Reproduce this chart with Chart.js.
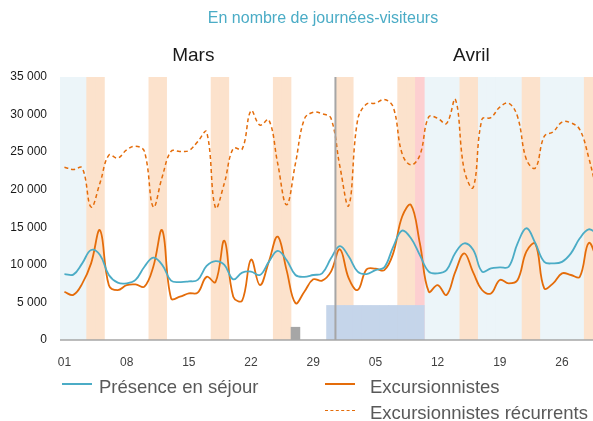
<!DOCTYPE html>
<html>
<head>
<meta charset="utf-8">
<script src="https://cdn.jsdelivr.net/npm/chart.js@4"></script>
<style>
  html, body { margin: 0; padding: 0; background: #fff; overflow: hidden; }
  #wrap { position: relative; width: 593px; height: 421px; overflow: hidden; font-family: "Liberation Sans", Arial, sans-serif; }
  /* le cadre du graphique dépasse un peu à droite : le 30 avril est coupé */
  #box { position: absolute; left: 0; top: 0; width: 602px; height: 421px; }
  .leg { position: absolute; font-size: 18.5px; color: #595959; white-space: nowrap; }
  .sw { position: absolute; width: 30px; height: 0; }
</style>
</head>
<body>
<div id="wrap">
  <div id="box"><canvas id="chart"></canvas></div>
  <div class="sw" style="left:62px;top:383px;border-top:2px solid #4bacc6"></div>
  <div class="leg" style="left:99px;top:376px">Présence en séjour</div>
  <div class="sw" style="left:325px;top:383px;border-top:2px solid #e46c0a"></div>
  <div class="leg" style="left:370px;top:376px">Excursionnistes</div>
  <div class="sw" style="left:325px;top:410px;border-top:1.5px dashed #e46c0a"></div>
  <div class="leg" style="left:370px;top:402px">Excursionnistes récurrents</div>
</div>
<script>
// ------------ Données ------------

// jours du 1er mars au 30 avril (le 30 est coupé par le bord du graphique)
const jours = [
  "01/03","02/03","03/03","04/03","05/03","06/03","07/03","08/03","09/03","10/03",
  "11/03","12/03","13/03","14/03","15/03","16/03","17/03","18/03","19/03","20/03",
  "21/03","22/03","23/03","24/03","25/03","26/03","27/03","28/03","29/03","30/03","31/03",
  "01/04","02/04","03/04","04/04","05/04","06/04","07/04","08/04","09/04","10/04",
  "11/04","12/04","13/04","14/04","15/04","16/04","17/04","18/04","19/04","20/04",
  "21/04","22/04","23/04","24/04","25/04","26/04","27/04","28/04","29/04","30/04"
];

const presence = [8780,8700,10200,11980,11300,8650,7630,7540,7990,9750,
  10950,10000,7900,7700,7800,8000,9850,10500,10000,8070,
  8960,9100,8650,10400,11850,10650,8650,8400,8650,8870,10870,
  12500,11100,9100,8780,9300,9670,12400,14550,13530,11300,
  9100,8870,9300,11620,12870,12000,9100,9540,9670,9750,
  12870,14870,12870,10400,10200,10400,11530,13530,14730,14100];

const excursionnistes = [6400,6000,7500,10200,14600,7300,6650,7300,7400,7100,
  9750,14600,5550,5770,6200,6300,8400,7700,13200,5770,
  5250,10700,7300,10400,13750,9300,4900,6430,8070,7900,9100,
  12070,8200,6650,9400,9500,9300,11530,16400,17970,12870,
  6430,7300,6000,9100,11530,9000,6650,6200,7990,7540,
  7990,11800,12800,6880,7540,8870,8650,8400,12900,10600];

const recurrents = [23000,22700,22900,17700,20900,24600,24200,25300,25800,25100,
  17700,21700,25100,25100,25200,26400,27700,17600,20900,25500,
  25400,30500,28600,29300,23500,18000,23500,29400,30300,30100,29500,
  23100,17900,29300,31400,31500,32000,31000,24800,23300,24600,
  29700,29500,28800,32000,22600,20300,29400,29600,31000,31500,
  29700,24000,22900,27100,27700,29000,28900,28000,24300,19300];

// bandes de fond
const vacances = ["01/03","02/03","03/03","11/04","12/04","13/04","14/04",
  "17/04","18/04","19/04","20/04","21/04","24/04","25/04","26/04","27/04","28/04"];
const weekends = ["04/03","05/03","11/03","12/03","18/03","19/03","25/03","26/03",
  "01/04","02/04","08/04","09/04","15/04","16/04","22/04","23/04","29/04","30/04"];
const feries = ["10/04"];

// barres du bas
const periodeBleue = ["31/03","01/04","02/04","03/04","04/04","05/04","06/04","07/04","08/04","09/04","10/04"];
const valeurBleue = 4600;
const jourGris = ["27/03"];
const valeurGris = 1700;

const yTicks = [0, 5000, 10000, 15000, 20000, 25000, 30000, 35000];
const mois = [{ nom: "Mars", pos: 14.5 }, { nom: "Avril", pos: 45.8 }];

// ------------ Graphique ------------

const band = (list, v) => jours.map(j => list.includes(j) ? v : null);

const decor = {
  id: "decor",
  afterDatasetsDraw(chart) {
    const { ctx, scales: { x, y } } = chart;
    const y0 = y.getPixelForValue(0);
    ctx.save();
    ctx.strokeStyle = "#a6a6a6";
    // séparation des mois
    const xs = (x.getPixelForValue(30) + x.getPixelForValue(31)) / 2;
    ctx.lineWidth = 2;
    ctx.beginPath();
    ctx.moveTo(xs, y.getPixelForValue(35000));
    ctx.lineTo(xs, y0);
    ctx.stroke();
    // axe horizontal
    ctx.lineWidth = 1.5;
    ctx.beginPath();
    ctx.moveTo(x.left, y0);
    ctx.lineTo(x.right, y0);
    ctx.stroke();
    ctx.restore();
  },
  afterDraw(chart) {
    const { ctx, scales: { x } } = chart;
    ctx.save();
    ctx.textAlign = "center";
    ctx.textBaseline = "middle";
    ctx.fillStyle = "#4bacc6";
    ctx.font = "16px 'Liberation Sans', Arial";
    ctx.fillText("En nombre de journées-visiteurs", 323, 19);
    ctx.fillStyle = "#1a1a1a";
    ctx.font = "19px 'Liberation Sans', Arial";
    mois.forEach(m => ctx.fillText(m.nom, x.getPixelForValue(m.pos), 56));
    ctx.restore();
  }
};

new Chart(document.getElementById("chart"), {
  data: {
    labels: jours,
    datasets: [
      { type: "line", label: "Présence en séjour", data: presence, borderColor: "#4bacc6",
        borderWidth: 1.8, pointRadius: 0, tension: 0.4, order: 0 },
      { type: "line", label: "Excursionnistes", data: excursionnistes, borderColor: "#e46c0a",
        borderWidth: 1.8, pointRadius: 0, tension: 0.4, order: 0 },
      { type: "line", label: "Excursionnistes récurrents", data: recurrents, borderColor: "#e46c0a",
        borderWidth: 1.5, borderDash: [4, 3], pointRadius: 0, tension: 0.4, order: 0 },
      { type: "bar", data: band(jourGris, valeurGris), backgroundColor: "#a6a6a6", order: 1 },
      { type: "bar", data: band(periodeBleue, valeurBleue), backgroundColor: "#c5d5ea", order: 1 },
      { type: "bar", data: band(feries, 35000), backgroundColor: "#fdcfd0", order: 2 },
      { type: "bar", data: band(weekends, 35000), backgroundColor: "#fce2cc", order: 2 },
      { type: "bar", data: band(vacances, 35000), backgroundColor: "#ecf5f9", order: 2 }
    ]
  },
  options: {
    responsive: true,
    maintainAspectRatio: false,
    animation: false,
    layout: { padding: { top: 77, right: 0, left: 0, bottom: 0 } },
    datasets: { bar: { barPercentage: 1, categoryPercentage: 1, grouped: false } },
    plugins: { legend: { display: false }, tooltip: { enabled: false } },
    scales: {
      x: {
        grid: { display: false },
        border: { display: false },
        ticks: {
          autoSkip: false, maxRotation: 0, color: "#404040", padding: 7,
          font: { family: "'Liberation Sans', Arial", size: 12 },
          callback: (v, i) => i % 7 === 0 ? jours[i].slice(0, 2) : ""
        },
        afterFit: s => { s.height = 81; s.paddingRight = 0; s.paddingLeft = 0; }
      },
      y: {
        min: 0, max: 35000,
        grid: { display: false },
        border: { display: false },
        afterBuildTicks: s => { s.ticks = yTicks.map(v => ({ value: v })); },
        ticks: {
          color: "#1a1a1a", padding: 5,
          font: { family: "'Liberation Sans', Arial", size: 12 },
          callback: v => v.toLocaleString("fr-FR").replace(/\s/g, " ")
        },
        afterFit: s => { s.width = 60; }
      }
    }
  },
  plugins: [decor]
});
</script>
</body>
</html>
